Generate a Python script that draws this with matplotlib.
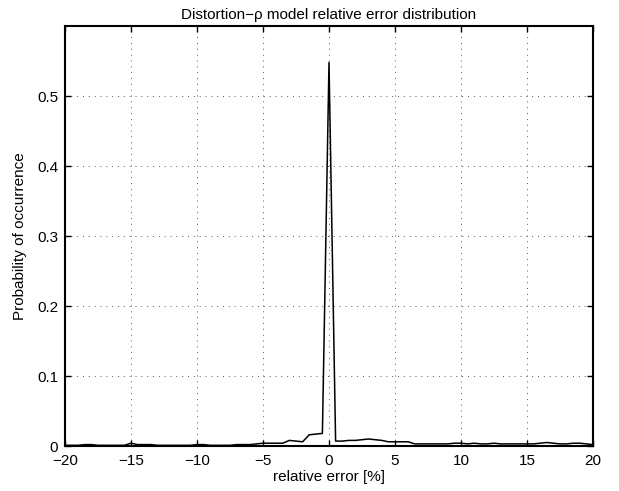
import numpy as np
import matplotlib
matplotlib.use("Agg")
import matplotlib.pyplot as plt

plt.rcParams['font.family'] = ['Liberation Sans', 'DejaVu Sans']

# relative error bins [%] and probability of occurrence
rel_err = np.arange(-20, 20.5, 0.5)
prob = [
    0.001, 0.001, 0.001, 0.002, 0.002, 0.001, 0.001, 0.001, 0.001, 0.001,  # -20 .. -15.5
    0.004, 0.002, 0.002, 0.002, 0.001, 0.001, 0.001, 0.001, 0.001, 0.001,  # -15 .. -10.5
    0.002, 0.002, 0.001, 0.001, 0.001, 0.001, 0.002, 0.002, 0.002, 0.003,  # -10 .. -5.5
    0.004, 0.004, 0.004, 0.004, 0.008, 0.007, 0.006, 0.016, 0.017, 0.018,  # -5 .. -0.5
    0.548,                                                                 # 0
    0.007, 0.007, 0.008, 0.008, 0.009, 0.010, 0.009, 0.008, 0.006, 0.006,  # 0.5 .. 5
    0.006, 0.006, 0.003, 0.003, 0.003, 0.003, 0.003, 0.003, 0.004, 0.004,  # 5.5 .. 10
    0.003, 0.004, 0.003, 0.003, 0.004, 0.003, 0.003, 0.003, 0.003, 0.003,  # 10.5 .. 15
    0.003, 0.004, 0.005, 0.004, 0.003, 0.003, 0.004, 0.004, 0.003, 0.002,  # 15.5 .. 20
]
xticks = [-20, -15, -10, -5, 0, 5, 10, 15, 20]
yticks = [0, 0.1, 0.2, 0.3, 0.4, 0.5]
ytick_labels = ['0', '0.1', '0.2', '0.3', '0.4', '0.5']

fig = plt.figure(figsize=(6.19, 4.91), dpi=100)
ax = fig.add_axes([65 / 619, 1 - 446 / 491, 528 / 619, 420 / 491])

ax.plot(rel_err, prob, color='black', linewidth=1.1)

ax.set_xlim(-20, 20)
ax.set_ylim(0, 0.6)
ax.set_xticks(xticks)
ax.set_xticklabels(['\u2212' + str(-t) if t < 0 else str(t) for t in xticks])
ax.set_yticks(yticks)
ax.set_yticklabels(ytick_labels)

ax.grid(True, linestyle=(0, (1, 5)), color='0.35', linewidth=0.7)
ax.tick_params(direction='in', top=True, right=True, length=4, width=1, labelsize=11)
ax.tick_params(axis='x', pad=6)
ax.tick_params(axis='y', pad=5)
for s in ax.spines.values():
    s.set_linewidth(1.5)

ax.set_xlabel('relative error [%]', fontsize=11, labelpad=1)
ax.set_ylabel('Probability of occurrence', fontsize=11, labelpad=7)
ax.set_title('Distortion\u2212\u03c1 model relative error distribution', fontsize=11, pad=5)

fig.savefig('out.png', dpi=100)
